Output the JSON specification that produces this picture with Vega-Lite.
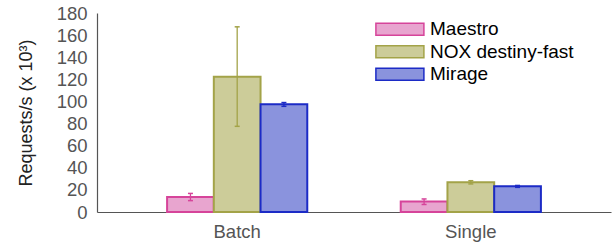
{
  "$schema": "https://vega.github.io/schema/vega-lite/v6.json",
  "width": 514,
  "height": 199,
  "autosize": {"type": "none"},
  "padding": {"left": 97, "top": 13, "right": 2, "bottom": 34},
  "config": {
    "font": "Liberation Sans",
    "view": {"stroke": null},
    "axis": {"grid": false},
    "axisY": {"labelOverlap": false, "ticks": false, "labelFontSize": 18.5, "labelColor": "#555555", "labelPadding": 10, "domainColor": "#555555", "domainWidth": 1.2},
    "legend": {
      "orient": "none",
      "legendX": 293.4,
      "legendY": 6.7,
      "symbolType": "M-4,-1H4V1H-4Z",
      "symbolSize": 144,
      "symbolStrokeWidth": 1.5,
      "symbolOpacity": 1,
      "labelFontSize": 19,
      "labelColor": "#000000",
      "labelOffset": 20.6,
      "rowPadding": 2.5,
      "padding": 0
    }
  },
  "data": {
    "values": [
      {"group": "Batch", "system": "Maestro", "value": 13.5, "lo": 10.3, "hi": 16.8},
      {"group": "Batch", "system": "NOX destiny-fast", "value": 122.4, "lo": 77.5, "hi": 167.5},
      {"group": "Batch", "system": "Mirage", "value": 97.4, "lo": 95.6, "hi": 99.0},
      {"group": "Single", "system": "Maestro", "value": 9.6, "lo": 6.8, "hi": 11.8},
      {"group": "Single", "system": "NOX destiny-fast", "value": 27.0, "lo": 25.4, "hi": 28.3},
      {"group": "Single", "system": "Mirage", "value": 23.2, "lo": 22.3, "hi": 24.0}
    ]
  },
  "encoding": {
    "x": {
      "field": "group", "type": "nominal", "sort": ["Batch", "Single"],
      "scale": {"paddingInner": 0.4, "paddingOuter": 0.3},
      "axis": {"title": null, "labelAngle": 0, "ticks": false, "labelFontSize": 18.5, "labelColor": "#555555", "labelPadding": 10, "domainColor": "#555555", "domainWidth": 1.2}
    },
    "xOffset": {
      "field": "system", "type": "nominal", "sort": ["Maestro", "NOX destiny-fast", "Mirage"],
      "scale": {"paddingInner": 0, "paddingOuter": 0}
    }
  },
  "layer": [
    {
      "mark": {"type": "bar", "strokeWidth": 2, "opacity": 1},
      "encoding": {
        "y": {
          "field": "value", "type": "quantitative",
          "scale": {"domain": [0, 180], "nice": false},
          "axis": {"title": "Requests/s (x 10³)", "titleFontSize": 18, "titleFontWeight": "normal", "titleColor": "#222222", "titlePadding": 21, "values": [0,20,40,60,80,100,120,140,160,180], "labelOverlap": false}
        },
        "fill": {
          "field": "system", "type": "nominal", "sort": ["Maestro", "NOX destiny-fast", "Mirage"],
          "scale": {"range": ["#e8a5cf", "#cccc99", "#8a93dd"]},
          "legend": {"title": null, "encode": {"symbols": {"update": {"stroke": {"scale": "stroke", "field": "value"}, "strokeWidth": {"value": 1.5}, "fillOpacity": {"value": 1}}}}}
        },
        "stroke": {
          "field": "system", "type": "nominal", "sort": ["Maestro", "NOX destiny-fast", "Mirage"],
          "scale": {"range": ["#d6449a", "#a3a348", "#1c2bc6"]},
          "legend": null
        }
      }
    },
    {
      "mark": {"type": "rule", "strokeWidth": 1.3},
      "encoding": {
        "y": {"field": "lo", "type": "quantitative", "axis": {"title": "Requests/s (x 10³)", "titleFontSize": 18, "titleFontWeight": "normal", "titleColor": "#222222", "titlePadding": 21, "values": [0,20,40,60,80,100,120,140,160,180], "labelOverlap": false}},
        "y2": {"field": "hi"},
        "color": {"field": "system", "type": "nominal", "sort": ["Maestro", "NOX destiny-fast", "Mirage"], "scale": {"range": ["#d6449a", "#a3a348", "#1c2bc6"]}, "legend": null}
      }
    },
    {
      "mark": {"type": "tick", "size": 5, "thickness": 1.5, "opacity": 1},
      "encoding": {
        "y": {"field": "lo", "type": "quantitative", "axis": {"title": "Requests/s (x 10³)", "titleFontSize": 18, "titleFontWeight": "normal", "titleColor": "#222222", "titlePadding": 21, "values": [0,20,40,60,80,100,120,140,160,180], "labelOverlap": false}},
        "color": {"field": "system", "type": "nominal", "sort": ["Maestro", "NOX destiny-fast", "Mirage"], "scale": {"range": ["#d6449a", "#a3a348", "#1c2bc6"]}, "legend": null}
      }
    },
    {
      "mark": {"type": "tick", "size": 5, "thickness": 1.5, "opacity": 1},
      "encoding": {
        "y": {"field": "hi", "type": "quantitative", "axis": {"title": "Requests/s (x 10³)", "titleFontSize": 18, "titleFontWeight": "normal", "titleColor": "#222222", "titlePadding": 21, "values": [0,20,40,60,80,100,120,140,160,180], "labelOverlap": false}},
        "color": {"field": "system", "type": "nominal", "sort": ["Maestro", "NOX destiny-fast", "Mirage"], "scale": {"range": ["#d6449a", "#a3a348", "#1c2bc6"]}, "legend": null}
      }
    }
  ]
}
